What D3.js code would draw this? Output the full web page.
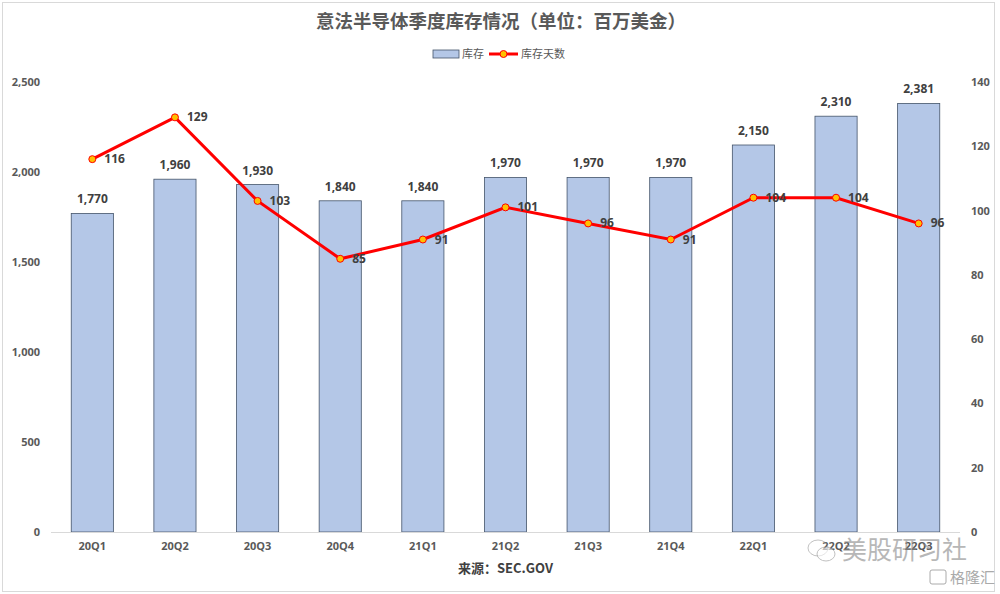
<!DOCTYPE html>
<html>
<head>
<meta charset="utf-8">
<script src="https://cdn.jsdelivr.net/npm/d3@7"></script>
<style>
  body { margin: 0; background: #fff; }
  svg { font-family: "Noto Sans CJK SC", "Open Sans", sans-serif; }
</style>
</head>
<body>
<svg width="1000" height="594"></svg>
<script>
const quarters = ["20Q1", "20Q2", "20Q3", "20Q4", "21Q1", "21Q2", "21Q3", "21Q4", "22Q1", "22Q2", "22Q3"];
const inventory = [1770, 1960, 1930, 1840, 1840, 1970, 1970, 1970, 2150, 2310, 2381];
const days = [116, 129, 103, 85, 91, 101, 96, 91, 104, 104, 96];
const leftTicks = [0, 500, 1000, 1500, 2000, 2500];
const rightTicks = [0, 20, 40, 60, 80, 100, 120, 140];

const width = 1000;
const height = 594;
const margin = { top: 82, right: 40, bottom: 62, left: 51 };

const svg = d3.select("svg");

// frame
svg.append("rect")
    .attr("x", 2.5).attr("y", 2.5)
    .attr("width", width - 8).attr("height", height - 5)
    .attr("fill", "#fff").attr("stroke", "#d9d9d9");

const x = d3.scaleBand()
    .domain(quarters)
    .range([margin.left, width - margin.right])
    .paddingInner(0.49)
    .paddingOuter(0.245);

const yL = d3.scaleLinear().domain([0, 2500]).range([height - margin.bottom, margin.top]);
const yR = d3.scaleLinear().domain([0, 140]).range([height - margin.bottom, margin.top]);

// left axis
const axL = svg.append("g")
    .attr("transform", `translate(${margin.left - 8},0)`)
    .call(d3.axisLeft(yL).tickValues(leftTicks).tickSize(0).tickFormat(d3.format(",")));
axL.select(".domain").remove();
axL.selectAll("text")
    .attr("fill", "#595959").attr("font-size", 11).attr("font-weight", "bold")
    .attr("font-family", "Open Sans, sans-serif");

// right axis
const axR = svg.append("g")
    .attr("transform", `translate(${width - margin.right + 8},0)`)
    .call(d3.axisRight(yR).tickValues(rightTicks).tickSize(0));
axR.select(".domain").remove();
axR.selectAll("text")
    .attr("fill", "#595959").attr("font-size", 11).attr("font-weight", "bold")
    .attr("font-family", "Open Sans, sans-serif");

// bars
svg.append("g").selectAll("rect")
    .data(inventory)
    .join("rect")
    .attr("x", (d, i) => x(quarters[i]))
    .attr("y", d => yL(d))
    .attr("width", x.bandwidth())
    .attr("height", d => yL(0) - yL(d))
    .attr("fill", "#b4c7e7")
    .attr("stroke", "#44546a")
    .attr("stroke-width", 0.8);

// bar labels
svg.append("g").selectAll("text")
    .data(inventory)
    .join("text")
    .attr("x", (d, i) => x(quarters[i]) + x.bandwidth() / 2)
    .attr("y", d => yL(d) - 10)
    .attr("text-anchor", "middle")
    .attr("fill", "#404040").attr("font-size", 12).attr("font-weight", "bold")
    .attr("font-family", "Open Sans, sans-serif")
    .text(d => d3.format(",")(d));

// x axis baseline
svg.append("line")
    .attr("x1", margin.left).attr("x2", width - margin.right)
    .attr("y1", yL(0) + 0.5).attr("y2", yL(0) + 0.5)
    .attr("stroke", "#d9d9d9");

const axB = svg.append("g")
    .attr("transform", `translate(0,${yL(0)})`)
    .call(d3.axisBottom(x).tickSize(0).tickPadding(10));
axB.select(".domain").remove();
axB.selectAll("text")
    .attr("fill", "#595959").attr("font-size", 11).attr("font-weight", "bold")
    .attr("font-family", "Open Sans, sans-serif");

// line
const cx = i => x(quarters[i]) + x.bandwidth() / 2;
const line = d3.line().x((d, i) => cx(i)).y(d => yR(d));
svg.append("path")
    .datum(days)
    .attr("d", line)
    .attr("fill", "none")
    .attr("stroke", "#ff0000")
    .attr("stroke-width", 3);

svg.append("g").selectAll("circle")
    .data(days)
    .join("circle")
    .attr("cx", (d, i) => cx(i))
    .attr("cy", d => yR(d))
    .attr("r", 3.5)
    .attr("fill", "#ffc000")
    .attr("stroke", "#ff0000")
    .attr("stroke-width", 1);

svg.append("g").selectAll("text")
    .data(days)
    .join("text")
    .attr("x", (d, i) => cx(i) + 12)
    .attr("y", d => yR(d) + 4)
    .attr("fill", "#404040").attr("font-size", 12).attr("font-weight", "bold")
    .attr("font-family", "Open Sans, sans-serif")
    .text(d => d);

// title
svg.append("text")
    .attr("x", 501).attr("y", 28)
    .attr("text-anchor", "middle")
    .attr("fill", "#595959").attr("font-size", 18.5).attr("font-weight", "bold")
    .text("意法半导体季度库存情况（单位：百万美金）");

// legend
const lg = svg.append("g").attr("transform", "translate(433,54)");
lg.append("rect").attr("x", 0).attr("y", -4).attr("width", 26).attr("height", 8)
    .attr("fill", "#b4c7e7").attr("stroke", "#44546a").attr("stroke-width", 0.8);
lg.append("text").attr("x", 29).attr("y", 4).attr("font-size", 11).attr("fill", "#595959").text("库存");
lg.append("line").attr("x1", 56).attr("x2", 85).attr("y1", 0).attr("y2", 0)
    .attr("stroke", "#ff0000").attr("stroke-width", 3);
lg.append("circle").attr("cx", 70.5).attr("cy", 0).attr("r", 3.5)
    .attr("fill", "#ffc000").attr("stroke", "#ff0000");
lg.append("text").attr("x", 88).attr("y", 4).attr("font-size", 11).attr("fill", "#595959").text("库存天数");

// source
svg.append("text")
    .attr("x", 553).attr("y", 573)
    .attr("text-anchor", "end")
    .attr("fill", "#404040").attr("font-size", 13).attr("font-weight", "bold")
    .text("来源：SEC.GOV");

// watermark
svg.append("g").attr("transform", "translate(818,548)").call(g => {
    g.append("ellipse").attr("rx", 10).attr("ry", 8).attr("fill", "none").attr("stroke", "#999").attr("opacity", 0.6);
    g.append("ellipse").attr("cx", 8).attr("cy", 6).attr("rx", 9).attr("ry", 7).attr("fill", "#fff").attr("stroke", "#999").attr("opacity", 0.6);
});
svg.append("text")
    .attr("x", 842).attr("y", 559)
    .attr("fill", "#888").attr("opacity", 0.6).attr("font-size", 25)
    .text("美股研习社");
svg.append("rect").attr("x", 930).attr("y", 570).attr("width", 16).attr("height", 14)
    .attr("fill", "none").attr("stroke", "#aaa").attr("rx", 2);
svg.append("text")
    .attr("x", 950).attr("y", 583)
    .attr("fill", "#aaa").attr("font-size", 15)
    .text("格隆汇");
</script>
</body>
</html>
